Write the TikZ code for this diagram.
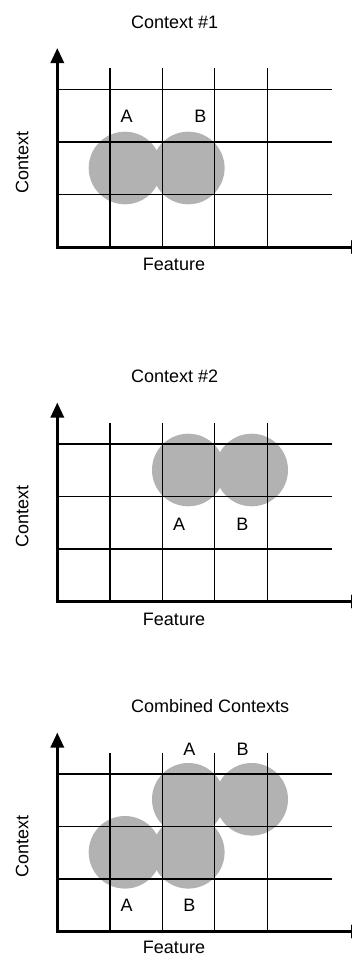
\documentclass[tikz,border=0pt]{standalone}
\usepackage{fontspec}
\setmainfont{Liberation Sans}
\usetikzlibrary{arrows.meta}
\tikzset{
  gridline/.style={line width=1.3pt,black},
  axisline/.style={line width=3pt,black,{Triangle[width=13pt,length=15pt]}-{Triangle[width=13pt,length=15pt]}},
  lbl/.style={font=\fontsize{18}{21}\selectfont,inner sep=0pt},
  blob/.style={fill=black!30,draw=none}
}
\newcommand\gridpanel[3]{%
  \begin{scope}[shift={(0,#1)}]
    \coordinate (#2o) at (57.3,247);
    \coordinate (#2yt) at (57.3,48);
    \coordinate (#2xt) at (366,247);
    \foreach \x in {110,162.4,214.7,267.3}{
      \draw[gridline] (\x,68) -- (\x,247);
    }
    \foreach \y in {89.5,142,194.5}{
      \draw[gridline] (57.3,\y) -- (331.7,\y);
    }
    \draw[axisline] (#2yt) -- (#2o) -- (#2xt);
    \node[lbl,anchor=base] (#2feat) at (174,#3) {Feature};
    \node[lbl,rotate=90,anchor=base] (#2ctx) at (28.3,162.2) {Context};
  \end{scope}}
\begin{document}
\begin{tikzpicture}[x=1pt,y=-1pt]
\useasboundingbox (0,0) rectangle (351,956);
% ---------- panel 1
\node[lbl,anchor=base west] (t1) at (131,28.3) {Context \#1};
\fill[blob] (125,168) circle[radius=36.3];
\fill[blob] (188.3,168) circle[radius=36.3];
\gridpanel{0}{p1}{270.5}
\node[lbl,anchor=base] (p1a) at (126.7,122.7) {A};
\node[lbl,anchor=base] (p1b) at (200.5,122.7) {B};
% ---------- panel 2
\begin{scope}[shift={(0,354.5)}]
\node[lbl,anchor=base west] (t2) at (131,28.3) {Context \#2};
\fill[blob] (188.3,115.5) circle[radius=36.3];
\fill[blob] (251.7,115.5) circle[radius=36.3];
\end{scope}
\gridpanel{354.5}{p2}{270.5}
\begin{scope}[shift={(0,354.5)}]
\node[lbl,anchor=base] (p2a) at (179.2,175.5) {A};
\node[lbl,anchor=base] (p2b) at (242.3,175.5) {B};
\end{scope}
% ---------- panel 3
\begin{scope}[shift={(0,684.5)}]
\node[lbl,anchor=base west] (t3) at (131,28.3) {Combined Contexts};
\fill[blob] (188.3,114.8) circle[radius=36.3];
\fill[blob] (251.7,114.8) circle[radius=36.3];
\fill[blob] (125,167.8) circle[radius=36.3];
\fill[blob] (188.3,167.8) circle[radius=36.3];
\end{scope}
\gridpanel{684.5}{p3}{269}
\begin{scope}[shift={(0,684.5)}]
\node[lbl,anchor=base] (p3ua) at (189.5,70.5) {A};
\node[lbl,anchor=base] (p3ub) at (242.5,70.5) {B};
\node[lbl,anchor=base] (p3la) at (126.7,227.2) {A};
\node[lbl,anchor=base] (p3lb) at (189.5,227.2) {B};
\end{scope}
\end{tikzpicture}
\end{document}
